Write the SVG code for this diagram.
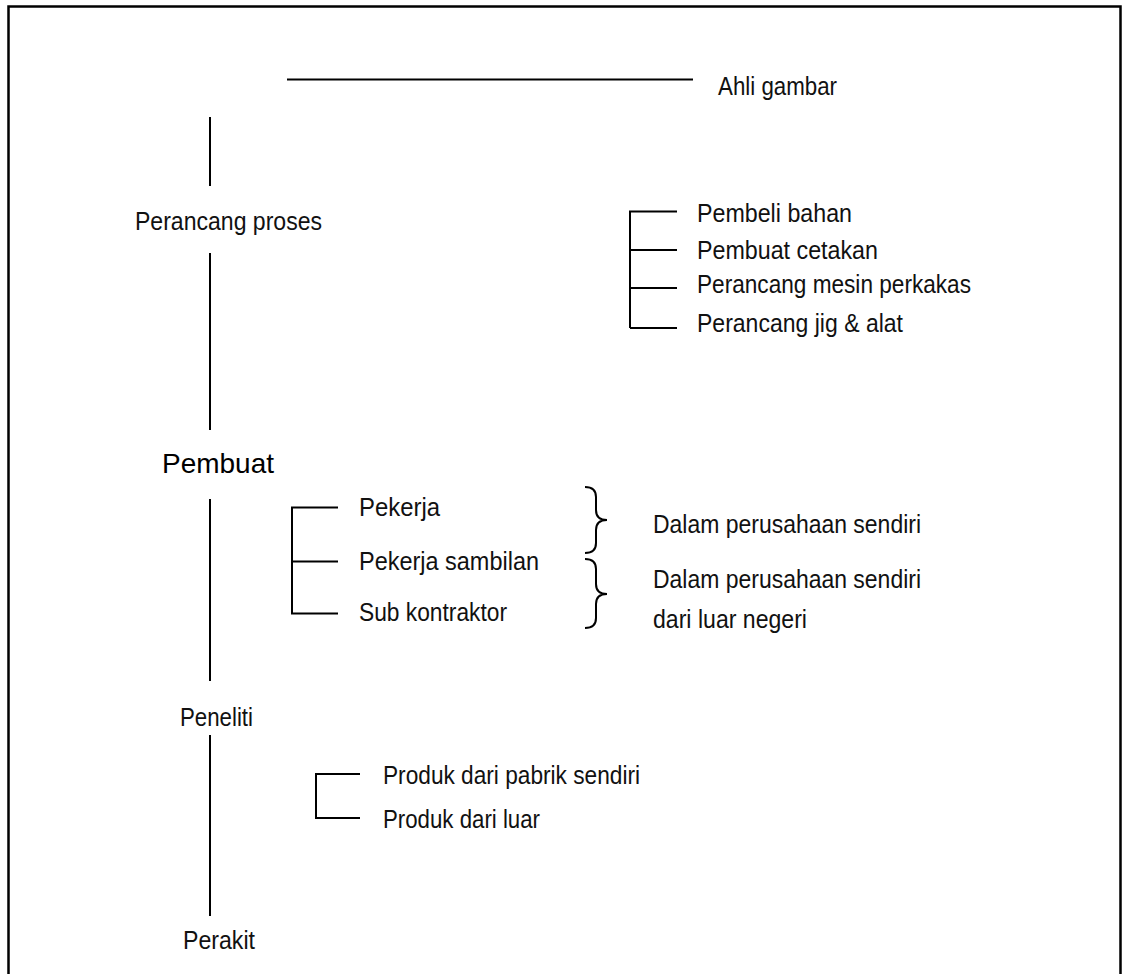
<svg xmlns="http://www.w3.org/2000/svg" width="1123" height="974" viewBox="0 0 1123 974">
<style>
.ln{stroke:#000;stroke-width:2;fill:none}
.br{stroke:#000;stroke-width:2;fill:none}
.t{font-family:"Liberation Sans Narrow","Liberation Sans",Arial,sans-serif;font-size:26px;fill:#111}
.b{font-family:"Liberation Sans",Arial,sans-serif;font-size:28px;fill:#000}
</style>
<rect width="1123" height="974" fill="#fff"/>
<path d="M8.5,980 V6.5 H1120.5 V980" fill="none" stroke="#000" stroke-width="2.5"/>
<g id="connectors">
<line class="ln" x1="287" y1="79.5" x2="693" y2="79.5"/>
<line class="ln" x1="210" y1="117" x2="210" y2="186"/>
<line class="ln" x1="210" y1="253" x2="210" y2="430"/>
<line class="ln" x1="210" y1="499" x2="210" y2="681"/>
<line class="ln" x1="210" y1="735" x2="210" y2="916"/>
<path class="ln" d="M677,211.5 H630 V328 M630,250 H677 M630,288 H677 M630,328 H677"/>
<path class="ln" d="M338,507.5 H292 V613.5 H338 M292,561.5 H338"/>
<path class="ln" d="M360,774 H316 V818 H360"/>
<path class="br" d="M585,487 Q596,487 596,497 V510 Q596,520 607,520 Q596,520 596,530 V543 Q596,553 585,553"/>
<path class="br" d="M585,559 Q596,559 596,569 V584 Q596,594 607,594 Q596,594 596,604 V618 Q596,628 585,628"/>
</g>
<g id="ahli"><text class="t" x="718" y="95" textLength="119" lengthAdjust="spacingAndGlyphs">Ahli gambar</text></g>
<g id="perancang"><text class="t" x="135" y="229.5" textLength="187" lengthAdjust="spacingAndGlyphs">Perancang proses</text></g>
<g id="pembeli"><text class="t" x="697" y="222" textLength="155" lengthAdjust="spacingAndGlyphs">Pembeli bahan</text></g>
<g id="cetakan"><text class="t" x="697" y="259" textLength="181" lengthAdjust="spacingAndGlyphs">Pembuat cetakan</text></g>
<g id="mesin"><text class="t" x="697" y="293" textLength="274" lengthAdjust="spacingAndGlyphs">Perancang mesin perkakas</text></g>
<g id="jig"><text class="t" x="697" y="332" textLength="206" lengthAdjust="spacingAndGlyphs">Perancang jig &amp; alat</text></g>
<g id="pembuat"><text class="b" x="162" y="473" textLength="112" lengthAdjust="spacingAndGlyphs">Pembuat</text></g>
<g id="pekerja"><text class="t" x="359" y="516" textLength="81" lengthAdjust="spacingAndGlyphs">Pekerja</text></g>
<g id="sambilan"><text class="t" x="359" y="570" textLength="180" lengthAdjust="spacingAndGlyphs">Pekerja sambilan</text></g>
<g id="sub"><text class="t" x="359" y="621" textLength="148" lengthAdjust="spacingAndGlyphs">Sub kontraktor</text></g>
<g id="dalam1"><text class="t" x="653" y="533" textLength="268" lengthAdjust="spacingAndGlyphs">Dalam perusahaan sendiri</text></g>
<g id="dalam2"><text class="t" x="653" y="588" textLength="268" lengthAdjust="spacingAndGlyphs">Dalam perusahaan sendiri</text></g>
<g id="luar"><text class="t" x="653" y="628" textLength="154" lengthAdjust="spacingAndGlyphs">dari luar negeri</text></g>
<g id="peneliti"><text class="t" x="180" y="726" textLength="73" lengthAdjust="spacingAndGlyphs">Peneliti</text></g>
<g id="produk1"><text class="t" x="383" y="784" textLength="257" lengthAdjust="spacingAndGlyphs">Produk dari pabrik sendiri</text></g>
<g id="produk2"><text class="t" x="383" y="828" textLength="157" lengthAdjust="spacingAndGlyphs">Produk dari luar</text></g>
<g id="perakit"><text class="t" x="183" y="949" textLength="72" lengthAdjust="spacingAndGlyphs">Perakit</text></g>
</svg>
